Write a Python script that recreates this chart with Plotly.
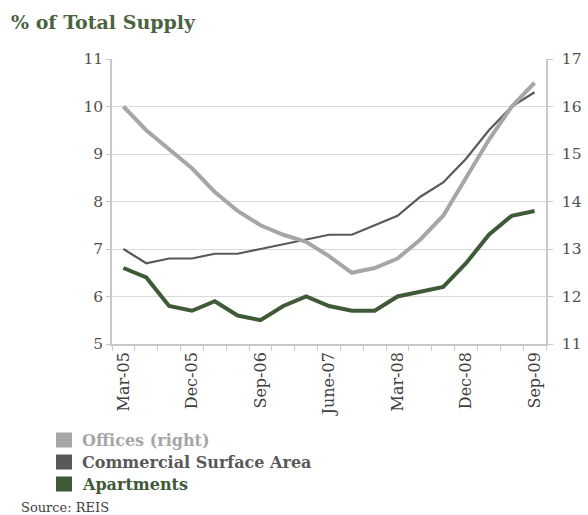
import plotly.graph_objects as go

quarters = ["Mar-05", "Jun-05", "Sep-05", "Dec-05", "Mar-06", "Jun-06", "Sep-06",
            "Dec-06", "Mar-07", "Jun-07", "Sep-07", "Dec-07", "Mar-08", "Jun-08",
            "Sep-08", "Dec-08", "Mar-09", "Jun-09", "Sep-09"]
tick_labels = ["Mar-05", "", "", "Dec-05", "", "", "Sep-06", "", "", "June-07", "", "",
               "Mar-08", "", "", "Dec-08", "", "", "Sep-09"]

offices = [16.0, 15.5, 15.1, 14.7, 14.2, 13.8, 13.5, 13.3, 13.15, 12.85, 12.5, 12.6,
           12.8, 13.2, 13.7, 14.5, 15.3, 16.0, 16.5]
commercial = [7.0, 6.7, 6.8, 6.8, 6.9, 6.9, 7.0, 7.1, 7.2, 7.3, 7.3, 7.5, 7.7, 8.1,
              8.4, 8.9, 9.5, 10.0, 10.3]
apartments = [6.6, 6.4, 5.8, 5.7, 5.9, 5.6, 5.5, 5.8, 6.0, 5.8, 5.7, 5.7, 6.0, 6.1,
              6.2, 6.7, 7.3, 7.7, 7.8]

series_names = ["Offices (right)", "Commercial Surface Area", "Apartments"]
C_OFF = "#a6a6a6"
C_COM = "#595959"
C_APT = "#3f5a37"
series_colors = [C_OFF, C_COM, C_APT]
FONT = "DejaVu Serif"

W, H = 588, 515
L, R, T, B = 112, 42, 59, 171
PW, PH = W - L - R, H - T - B


def px(x):
    return (x - L) / PW


def py(y):
    return (H - B - y) / PH


fig = go.Figure()
fig.add_trace(go.Scatter(x=quarters, y=offices, mode="lines", yaxis="y2",
                         name=series_names[0], line=dict(color=C_OFF, width=4)))
fig.add_trace(go.Scatter(x=quarters, y=commercial, mode="lines",
                         name=series_names[1], line=dict(color=C_COM, width=2.2)))
fig.add_trace(go.Scatter(x=quarters, y=apartments, mode="lines",
                         name=series_names[2], line=dict(color=C_APT, width=4)))

axis_col = "#c8c8c8"
fig.update_layout(
    width=W, height=H,
    margin=dict(l=L, r=R, t=T, b=B),
    plot_bgcolor="white", paper_bgcolor="white",
    font=dict(family=FONT, size=15, color="#505050"),
    showlegend=False,
    xaxis=dict(type="category", tickmode="array", tickvals=quarters, ticktext=tick_labels,
               tickson="boundaries", ticks="outside", ticklen=5, tickcolor=axis_col,
               showline=True, linecolor=axis_col, linewidth=1.5, tickangle=-90,
               tickfont=dict(size=16, color="#404040"), showgrid=False,
               range=[-0.5, 18.5], automargin=False),
    yaxis=dict(range=[5, 11], dtick=1, showgrid=True, gridcolor="#d9d9d9", gridwidth=1.3,
               showline=True, linecolor=axis_col, linewidth=1.5, ticks="outside",
               ticklen=4, tickcolor=axis_col, zeroline=False, automargin=False,
               tickfont=dict(size=15.5, color="#505050")),
    yaxis2=dict(range=[11, 17], dtick=1, overlaying="y", side="right", showgrid=False,
                showline=True, linecolor=axis_col, linewidth=1.5, ticks="outside",
                ticklen=5, tickcolor=axis_col, zeroline=False, ticklabelstandoff=6,
                automargin=False, tickfont=dict(size=15.5, color="#505050")),
)

# key below the chart: coloured square + bold label per series
for i, (name, col) in enumerate(zip(series_names, series_colors)):
    yc = 440 + 22 * i
    fig.add_shape(type="rect", xref="paper", yref="paper",
                  x0=px(56), x1=px(72), y0=py(yc + 7.5), y1=py(yc - 7.5),
                  fillcolor=col, line=dict(width=0))
    fig.add_annotation(text=f"<b>{name}</b>", xref="paper", yref="paper",
                       x=px(80), y=py(yc), xanchor="left", yanchor="middle",
                       showarrow=False, font=dict(family=FONT, size=16, color=col))

fig.add_annotation(text="<b>% of Total Supply</b>", xref="paper", yref="paper",
                   x=px(9), y=py(22), xanchor="left",
                   yanchor="middle", showarrow=False,
                   font=dict(family=FONT, size=19, color="#4a6340"))
fig.add_annotation(text="Source: REIS", xref="paper", yref="paper",
                   x=px(19), y=py(507), xanchor="left", yanchor="middle",
                   showarrow=False, font=dict(family=FONT, size=13, color="#404040"))

fig.write_html("out.html")
